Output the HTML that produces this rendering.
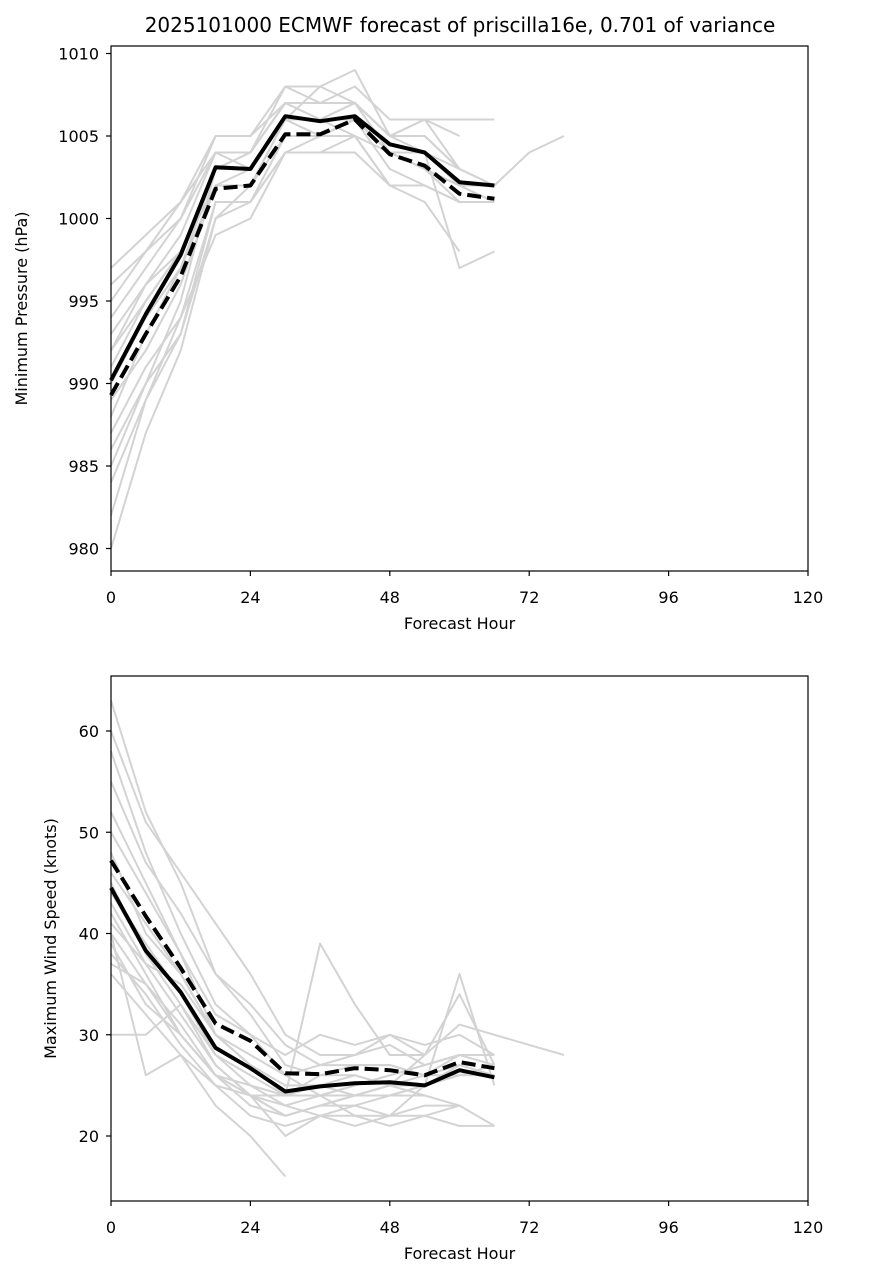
<!DOCTYPE html>
<html><head><meta charset="utf-8"><style>
body{margin:0;background:#fff}
svg{display:block;font-family:"DejaVu Sans","Liberation Sans",sans-serif}
</style></head><body>
<svg id="chart" width="869" height="1279" viewBox="0 0 869 1279" xmlns="http://www.w3.org/2000/svg">
<rect width="869" height="1279" fill="#fff"/>
<text x="460" y="32" font-size="20" text-anchor="middle">2025101000 ECMWF forecast of priscilla16e, 0.701 of variance</text>
</svg>
<script>
const hours=[0,6,12,18,24,30,36,42,48,54,60,66,72,78];
const xTicks=[0,24,48,72,96,120];
const presTicks=[980,985,990,995,1000,1005,1010];
const windTicks=[20,30,40,50,60];
const presMean=[990.2,994.2,997.8,1003.1,1003.0,1006.2,1005.9,1006.2,1004.5,1004.0,1002.2,1002.0];
const presMedian=[989.3,993.0,996.5,1001.8,1002.0,1005.1,1005.1,1006.0,1003.9,1003.2,1001.5,1001.2];
const windMean=[44.5,38.3,34.2,28.7,26.7,24.4,24.9,25.2,25.3,25.0,26.5,25.8];
const windMedian=[47.2,41.7,36.6,31.1,29.4,26.2,26.1,26.7,26.5,26.0,27.3,26.7];
const presMembers=[
[980,987,992,1000,1002,1006,1008,1009,1005,1006,1003,1002],
[985,990,995,1003,1004,1008,1008,1007,1004,1004,997,998],
[997,999,1001,1005,1005,1007,1006,1007,1005,1006,1006,1006],
[988,993,997,1003,1003,1006,1006,1005,1002,1001,998],
[982,989,994,999,1000,1004,1005,1006,1004,1003,1002,1002,1004,1005],
[995,998,1000,1004,1004,1007,1007,1008,1006,1006,1005],
[992,996,999,1004,1003,1006,1006,1006,1004,1004,1002,1001],
[990,994,997,1002,1002,1005,1005,1006,1004,1003,1001,1001],
[986,990,993,1000,1001,1004,1004,1005,1002,1002,1001],
[994,997,1000,1005,1005,1008,1007,1007,1005,1005,1003,1002],
[989,992,996,1002,1002,1006,1006,1007,1005,1005,1003],
[993,996,998,1003,1003,1006,1005,1006,1004,1004,1002,1002],
[987,991,994,1001,1001,1005,1005,1006,1003,1002,1001],
[991,995,998,1003,1004,1007,1006,1006,1004,1003,1002,1002],
[996,998,1001,1004,1004,1007,1007,1007,1005,1004,1003],
[984,989,993,1001,1001,1004,1004,1004,1002,1002,1001,1001],
[992,995,998,1002,1003,1006,1005,1005,1004,1003,1002,1001]
];
const windMembers=[
[63,52,45,36,32,27,26,26,25,24,23,21],
[58,48,40,33,30,26,24,22,21,22,21,21],
[30,30,33,27,24,20,22,23,22,25,36,25],
[52,45,38,30,27,24,39,33,28,28,34,27],
[40,26,28,25,22,21,22,22,22,22,23],
[45,38,33,28,26,24,24,24,24,25,26,27],
[42,36,30,26,23,22,23,23,24,25,26,26],
[38,34,29,25,24,22,23,24,25,28,31,30,29,28],
[48,40,36,30,27,24,26,27,27,26,27],
[60,51,46,41,36,30,28,28,29,27,28],
[36,32,28,23,20,16],
[41,37,35,30,28,26,27,28,30,28],
[44,39,34,28,25,23,24,25,26,27,28,28],
[39,33,30,26,24,22,23,24,25,26,26],
[50,44,38,32,30,28,30,29,30,29,30,28],
[37,35,31,26,24,24,25,24,24,24],
[46,41,36,30,27,25,25,26,25,25,27,26],
[43,37,32,27,24,23,22,21,22,23,23],
[55,47,42,36,33,29,27,27,27,26,28],
[40,35,30,26,25,24,24,25,26,27,28,27]
];
const NS="http://www.w3.org/2000/svg";
const svg=document.getElementById('chart');
function mk(tag,attrs,parent){const e=document.createElementNS(NS,tag);for(const k in attrs)e.setAttribute(k,attrs[k]);(parent||svg).appendChild(e);return e;}
function panel(cfg){
 const L=111,R=808,T=cfg.top,B=cfg.bottom;
 const g=mk('g',{});
 
 
 const xs=h=>L+(h/120)*(R-L);
 const ys=v=>cfg.y0px+(v-cfg.v0)*(cfg.y1px-cfg.y0px)/(cfg.v1-cfg.v0);
 const line=(arr,stroke,w,dash,nm)=>{
  const pts=arr.map((v,i)=>xs(hours[i]).toFixed(1)+','+ys(v).toFixed(1)).join(' ');
  const p=mk('polyline',{points:pts,fill:'none',stroke:stroke,'stroke-width':w,'stroke-linejoin':'round'},g);
  if(dash)p.setAttribute('stroke-dasharray',dash);
  
  
 };
 cfg.members.forEach(m=>line(m,'#d3d3d3',2,null,'ensemble-member-line'));
 line(cfg.mean,'#000',4,null,'ensemble-mean-line');
 line(cfg.median,'#000',4,'14,6','ensemble-median-line');
 const fr=mk('rect',{x:L,y:T,width:R-L,height:B-T,fill:'none',stroke:'#000','stroke-width':1.2},g);
 
 
 xTicks.forEach(t=>{
  const x=xs(t);
  mk('line',{x1:x,x2:x,y1:B,y2:B+5,stroke:'#000','stroke-width':1.2},g);
  const tx=mk('text',{x:x,y:B+32,'font-size':16,'text-anchor':'middle'},g);
  tx.textContent=t;
  
  
 });
 cfg.ticks.forEach(t=>{
  const y=ys(t);
  mk('line',{x1:L-5,x2:L,y1:y,y2:y,stroke:'#000','stroke-width':1.2},g);
  const tx=mk('text',{x:L-12,y:y+6,'font-size':16,'text-anchor':'end'},g);
  tx.textContent=t;
  
  
 });
 const xl=mk('text',{x:(L+R)/2,y:B+58,'font-size':16,'text-anchor':'middle'},g);
 xl.textContent='Forecast Hour';
 
 
 const yl=mk('text',{x:0,y:0,'font-size':16,'text-anchor':'middle',transform:`translate(${cfg.ylx},${(T+B)/2}) rotate(-90)`},g);
 yl.textContent=cfg.ylabel;
 
 
}
panel({name:'pressure-panel',top:46,bottom:571,v0:1010,y0px:53.5,v1:980,y1px:548.5,ticks:presTicks,members:presMembers,mean:presMean,median:presMedian,ylabel:'Minimum Pressure (hPa)',ylx:27});
panel({name:'wind-panel',top:676,bottom:1201,v0:60,y0px:731,v1:20,y1px:1136,ticks:windTicks,members:windMembers,mean:windMean,median:windMedian,ylabel:'Maximum Wind Speed (knots)',ylx:56});
</script>
</body></html>
